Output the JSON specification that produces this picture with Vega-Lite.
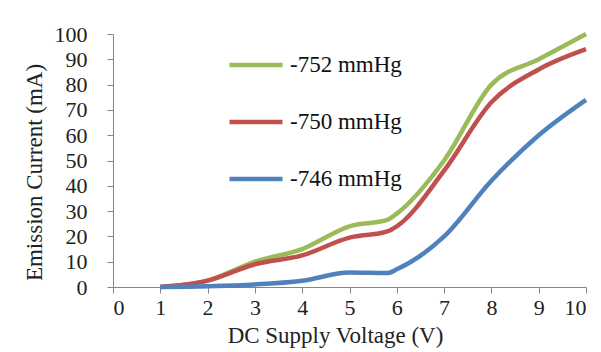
{
  "$schema": "https://vega.github.io/schema/vega-lite/v6.json",
  "width": 473,
  "height": 253,
  "autosize": {"type": "none"},
  "padding": {"left": 113, "top": 34, "right": 15, "bottom": 65},
  "background": "white",
  "config": {
    "view": {"stroke": null},
    "font": "Liberation Serif"
  },
  "data": {
    "values": [
      {"v": 1, "s": "-752 mmHg", "c": 0},
      {"v": 2, "s": "-752 mmHg", "c": 2.5},
      {"v": 3, "s": "-752 mmHg", "c": 10},
      {"v": 4, "s": "-752 mmHg", "c": 15},
      {"v": 5, "s": "-752 mmHg", "c": 24},
      {"v": 5.8, "s": "-752 mmHg", "c": 26.5},
      {"v": 6, "s": "-752 mmHg", "c": 29},
      {"v": 7, "s": "-752 mmHg", "c": 50},
      {"v": 8, "s": "-752 mmHg", "c": 80},
      {"v": 9, "s": "-752 mmHg", "c": 90},
      {"v": 10, "s": "-752 mmHg", "c": 100},
      {"v": 1, "s": "-750 mmHg", "c": 0},
      {"v": 2, "s": "-750 mmHg", "c": 2.5},
      {"v": 3, "s": "-750 mmHg", "c": 9},
      {"v": 4, "s": "-750 mmHg", "c": 12.5},
      {"v": 5, "s": "-750 mmHg", "c": 19.5},
      {"v": 5.8, "s": "-750 mmHg", "c": 22},
      {"v": 6, "s": "-750 mmHg", "c": 24},
      {"v": 7, "s": "-750 mmHg", "c": 46},
      {"v": 8, "s": "-750 mmHg", "c": 73},
      {"v": 9, "s": "-750 mmHg", "c": 86},
      {"v": 10, "s": "-750 mmHg", "c": 94},
      {"v": 1, "s": "-746 mmHg", "c": 0},
      {"v": 2, "s": "-746 mmHg", "c": 0.3},
      {"v": 3, "s": "-746 mmHg", "c": 1},
      {"v": 4, "s": "-746 mmHg", "c": 2.5},
      {"v": 5, "s": "-746 mmHg", "c": 5.7},
      {"v": 5.8, "s": "-746 mmHg", "c": 5.5},
      {"v": 6, "s": "-746 mmHg", "c": 7},
      {"v": 7, "s": "-746 mmHg", "c": 20},
      {"v": 8, "s": "-746 mmHg", "c": 42},
      {"v": 9, "s": "-746 mmHg", "c": 60},
      {"v": 10, "s": "-746 mmHg", "c": 74}
    ]
  },
  "mark": {"type": "line", "interpolate": "monotone", "strokeWidth": 4.5},
  "encoding": {
    "x": {
      "field": "v", "type": "quantitative",
      "scale": {"domain": [0, 10], "nice": false},
      "axis": {
        "title": "DC Supply Voltage (V)", "values": [0,1,2,3,4,5,6,7,8,9,10],
        "grid": false, "domainColor": "#868686", "tickColor": "#868686", "tickSize": 6,
        "labelFont": "Liberation Serif", "labelFontSize": 22, "labelColor": "#222", "labelPadding": 4,
        "titleFont": "Liberation Serif", "titleFontSize": 23, "titleFontWeight": "normal", "titleColor": "#222",
        "titlePadding": 6, "titleX": 222
      }
    },
    "y": {
      "field": "c", "type": "quantitative",
      "scale": {"domain": [0, 100], "nice": false},
      "axis": {
        "title": "Emission Current (mA)", "values": [0,10,20,30,40,50,60,70,80,90,100],
        "grid": false, "domainColor": "#868686", "tickColor": "#868686", "tickSize": 6,
        "labelFont": "Liberation Serif", "labelFontSize": 22, "labelColor": "#222", "labelPadding": 20,
        "titleFont": "Liberation Serif", "titleFontSize": 23, "titleFontWeight": "normal", "titleColor": "#222",
        "titleX": -72, "titleY": 138, "titleBaseline": "alphabetic"
      }
    },
    "color": {
      "field": "s", "type": "nominal",
      "scale": {"domain": ["-752 mmHg", "-750 mmHg", "-746 mmHg"], "range": ["#9BBB59", "#C0504D", "#4F81BD"]},
      "legend": {
        "title": null, "orient": "none", "legendX": 114, "legendY": 2,
        "symbolType": "stroke", "symbolSize": 2809, "symbolStrokeWidth": 4.5,
        "labelFont": "Liberation Serif", "labelFontSize": 23, "labelColor": "#111", "labelOffset": 5,
        "rowPadding": 16, "padding": 0
      }
    }
  }
}
